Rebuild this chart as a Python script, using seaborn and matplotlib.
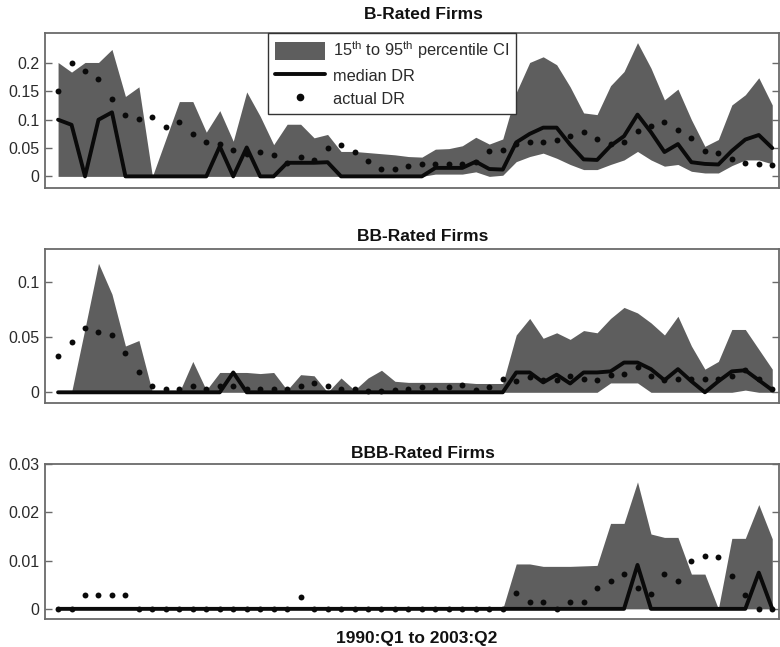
import numpy as np
import pandas as pd
import matplotlib
matplotlib.use("Agg")
import matplotlib.pyplot as plt
import seaborn as sns
from matplotlib.patches import Patch
from matplotlib.lines import Line2D

# ---------------- data (quarterly, 1990:Q1 .. 2003:Q2) ----------------
quarters = np.arange(54)

b_actual = [0.151, 0.200, 0.186, 0.171, 0.136, 0.109, 0.102, 0.104, 0.087, 0.096,
            0.074, 0.061, 0.058, 0.047, 0.039, 0.043, 0.038, 0.024, 0.035, 0.029,
            0.050, 0.056, 0.043, 0.028, 0.013, 0.013, 0.019, 0.021, 0.022, 0.022,
            0.022, 0.026, 0.044, 0.047, 0.057, 0.061, 0.060, 0.065, 0.072, 0.079,
            0.066, 0.058, 0.061, 0.080, 0.089, 0.096, 0.081, 0.068, 0.044, 0.042,
            0.030, 0.023, 0.022, 0.020]
b_median = [0.100, 0.091, 0.0, 0.100, 0.113, 0.0, 0.0, 0.0, 0.0, 0.0,
            0.0, 0.0, 0.053, 0.0, 0.051, 0.0, 0.0, 0.024, 0.024, 0.024,
            0.025, 0.0, 0.0, 0.0, 0.0, 0.0, 0.0, 0.0, 0.015, 0.015,
            0.015, 0.026, 0.013, 0.012, 0.060, 0.075, 0.086, 0.086, 0.056, 0.030,
            0.029, 0.054, 0.071, 0.109, 0.078, 0.043, 0.057, 0.025, 0.022, 0.021,
            0.045, 0.065, 0.073, 0.050]
b_upper = [0.201, 0.184, 0.201, 0.201, 0.224, 0.141, 0.158, 0.0, 0.066, 0.132,
           0.132, 0.078, 0.116, 0.062, 0.149, 0.106, 0.056, 0.092, 0.092, 0.068,
           0.074, 0.044, 0.044, 0.042, 0.040, 0.038, 0.035, 0.034, 0.048, 0.049,
           0.054, 0.069, 0.057, 0.066, 0.148, 0.201, 0.211, 0.197, 0.158, 0.112,
           0.109, 0.160, 0.185, 0.236, 0.191, 0.135, 0.154, 0.100, 0.053, 0.065,
           0.126, 0.144, 0.174, 0.126]
b_lower = [0.0] * 28 + [0.004, 0.004, 0.004, 0.008, 0.0, 0.002, 0.026, 0.035,
                        0.041, 0.032, 0.021, 0.012, 0.012, 0.021, 0.029, 0.044,
                        0.029, 0.018, 0.021, 0.009, 0.006, 0.006, 0.019, 0.029,
                        0.029, 0.022]

bb_actual = [0.033, 0.046, 0.058, 0.055, 0.052, 0.036, 0.018, 0.006, 0.003, 0.003,
             0.006, 0.003, 0.006, 0.006, 0.003, 0.003, 0.003, 0.003, 0.006, 0.008,
             0.006, 0.003, 0.003, 0.001, 0.001, 0.002, 0.003, 0.005, 0.002, 0.005,
             0.007, 0.002, 0.005, 0.012, 0.010, 0.014, 0.011, 0.011, 0.015, 0.012,
             0.011, 0.016, 0.017, 0.023, 0.015, 0.011, 0.012, 0.012, 0.012, 0.012,
             0.015, 0.020, 0.012, 0.003]
bb_median = [0.0] * 13 + [0.018] + [0.0] * 20 + [0.018, 0.018, 0.009, 0.016, 0.008, 0.018,
                                                 0.018, 0.019, 0.027, 0.027, 0.021, 0.011,
                                                 0.021, 0.010, 0.0, 0.010, 0.019, 0.020,
                                                 0.011, 0.002]
bb_upper = [0.0, 0.0, 0.058, 0.117, 0.089, 0.042, 0.047, 0.0, 0.0, 0.0,
            0.028, 0.002, 0.018, 0.018, 0.018, 0.017, 0.018, 0.002, 0.016, 0.015,
            0.0, 0.013, 0.002, 0.013, 0.020, 0.010, 0.009, 0.009, 0.009, 0.009,
            0.009, 0.008, 0.008, 0.008, 0.052, 0.067, 0.049, 0.054, 0.048, 0.056,
            0.054, 0.067, 0.077, 0.072, 0.063, 0.052, 0.069, 0.042, 0.021, 0.028,
            0.057, 0.057, 0.039, 0.021]
bb_lower = [0.0] * 41 + [0.0085, 0.0085, 0.0085] + [0.0] * 7 + [0.002, 0.0, 0.0]

bbb_actual = [0.0, 0.0, 0.0029, 0.0029, 0.0029, 0.0029] + [0.0] * 12 + [0.0024] + [0.0] * 15 + \
             [0.0032, 0.0015, 0.0015, 0.0, 0.0015, 0.0015, 0.0043, 0.0057, 0.0072, 0.0043,
              0.0030, 0.0072, 0.0057, 0.0099, 0.0110, 0.0108, 0.0068, 0.0029, 0.0, 0.0]
bbb_median = [0.0] * 43 + [0.0091] + [0.0] * 8 + [0.0075, 0.0]
bbb_upper = [0.0] * 34 + [0.0093, 0.0093, 0.0088, 0.0088, 0.0088, 0.0089, 0.0090,
                          0.0177, 0.0177, 0.0263, 0.0155, 0.0148, 0.0148, 0.0072,
                          0.0072, 0.0, 0.0146, 0.0146, 0.0216, 0.0145]
bbb_lower = [0.0] * 54

panel_titles = ["B-Rated Firms", "BB-Rated Firms", "BBB-Rated Firms"]
panel_yticks = [[0, 0.05, 0.1, 0.15, 0.2], [0, 0.05, 0.1], [0, 0.01, 0.02, 0.03]]
panel_ylims = [(-0.0205, 0.253), (-0.0097, 0.130), (-0.0021, 0.030)]
x_label = "1990:Q1 to 2003:Q2"
legend_labels = [r"15$^{\rm th}$ to 95$^{\rm th}$ percentile CI", "median DR", "actual DR"]

# ---------------- style ----------------
sns.set_style("ticks")
plt.rcParams["font.family"] = ["Liberation Sans", "DejaVu Sans"]
plt.rcParams["mathtext.fontset"] = "custom"
plt.rcParams["mathtext.rm"] = "Liberation Sans"
plt.rcParams["mathtext.it"] = "Liberation Sans:italic"
plt.rcParams["mathtext.bf"] = "Liberation Sans:bold"

BAND = "#5e5e5e"
SPINE = "#6a6a6a"
TXT = "#2a2a2a"

fig = plt.figure(figsize=(7.8, 6.47), dpi=100)
W, H = 780.0, 647.0
left, right = 45, 779
boxes = [(33, 188), (249, 403), (464, 619)]
title_pads = [10, 6, 4]

series = [
    (b_actual, b_median, b_lower, b_upper),
    (bb_actual, bb_median, bb_lower, bb_upper),
    (bbb_actual, bbb_median, bbb_lower, bbb_upper),
]

axes = []
for k, (top, bot) in enumerate(boxes):
    ax = fig.add_axes([left / W, 1 - bot / H, (right - left) / W, (bot - top) / H])
    axes.append(ax)
    actual, median, lower, upper = series[k]
    df = pd.DataFrame({"q": quarters, "actual": actual, "median": median,
                       "lower": lower, "upper": upper})
    ax.fill_between(df["q"], df["lower"], df["upper"], color=BAND, lw=0, zorder=1)
    sns.lineplot(data=df, x="q", y="median", ax=ax, color="#0a0a0a", lw=2.8,
                 zorder=3, legend=False)
    sns.scatterplot(data=df, x="q", y="actual", ax=ax, color="#0a0a0a", s=18,
                    linewidth=0, zorder=4, legend=False)
    ax.set_xlim(-0.97, 53.5)
    ax.set_ylim(*panel_ylims[k])
    ax.set_xticks([])
    ax.set_yticks(panel_yticks[k])
    ax.set_yticklabels(["%g" % v for v in panel_yticks[k]])
    ax.tick_params(axis="y", direction="in", left=True, right=True, length=5,
                   width=1.0, color=SPINE, labelsize=11.5, labelcolor=TXT, pad=4)
    ax.set_xlabel("")
    ax.set_ylabel("")
    for sp in ax.spines.values():
        sp.set_visible(True)
        sp.set_color(SPINE)
        sp.set_linewidth(1.3)
    ax.set_title(panel_titles[k], fontsize=12.5, fontweight="bold", x=0.515,
                 pad=title_pads[k], color="#111111")

axes[2].set_xlabel(x_label, fontsize=12.5, fontweight="bold", color="#111111",
                   labelpad=8)
axes[2].xaxis.set_label_coords(0.507, -0.08)

handles = [
    Patch(facecolor=BAND, edgecolor="none"),
    Line2D([0], [0], color="#0a0a0a", lw=2.8),
    Line2D([0], [0], color="#0a0a0a", marker="o", ls="none", markersize=4.5),
]
leg = axes[0].legend(handles, legend_labels, loc="upper left",
                     bbox_to_anchor=((268 - left) / (right - left), 1.0),
                     borderaxespad=0, frameon=True, fancybox=False,
                     fontsize=11.8, handlelength=3.1, handleheight=1.35,
                     handletextpad=0.45, labelspacing=0.3, borderpad=0.4,
                     labelcolor=TXT)
leg.get_frame().set_edgecolor("#333333")
leg.get_frame().set_linewidth(1.0)
leg.get_frame().set_alpha(1.0)
leg.set_zorder(10)

fig.savefig("out.png", dpi=100)
